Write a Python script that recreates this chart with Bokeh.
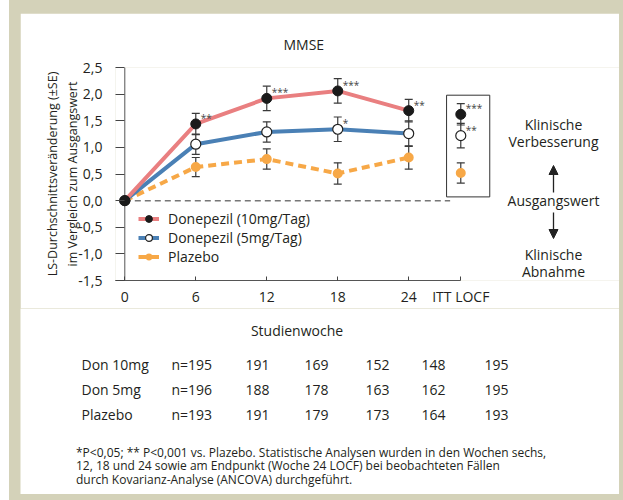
from bokeh.plotting import figure
from bokeh.layouts import column
from bokeh.models import (Range1d, FixedTicker, Whisker, TeeHead, Legend, LegendItem,
                          Label, Arrow, NormalHead, ColumnDataSource)
from bokeh.core.properties import value
from bokeh.embed import file_html
from bokeh.resources import INLINE

# ---------------- data ----------------
weeks = [0, 6, 12, 18, 24]
week_labels = ["0", "6", "12", "18", "24"]
itt_label = "ITT LOCF"
ITT_X = 28.4

don10 = [0.0, 1.44, 1.92, 2.06, 1.69]
don10_se = [0.0, 0.20, 0.23, 0.23, 0.21]
don10_itt, don10_itt_se = 1.62, 0.20
don10_stars = ["", "**", "***", "***", "**"]
don10_itt_star = "***"

don5 = [0.0, 1.06, 1.29, 1.34, 1.26]
don5_se = [0.0, 0.19, 0.19, 0.23, 0.24]
don5_itt, don5_itt_se = 1.22, 0.23
don5_stars = ["", "", "", "*", ""]
don5_itt_star = "**"

plac = [0.0, 0.63, 0.78, 0.51, 0.81]
plac_se = [0.0, 0.18, 0.19, 0.20, 0.22]
plac_itt, plac_itt_se = 0.52, 0.19

y_ticks = [-1.5, -1.0, -0.5, 0.0, 0.5, 1.0, 1.5, 2.0, 2.5]
y_tick_labels = ["-1,5", "-1,0", "-0,5", "0,0", "0,5", "1,0", "1,5", "2,0", "2,5"]

series_names = ["Donepezil (10mg/Tag)", "Donepezil (5mg/Tag)", "Plazebo"]
table_rows = ["Don 10mg", "Don 5mg", "Plazebo"]
n_don10 = [195, 191, 169, 152, 148, 195]
n_don5 = [196, 188, 178, 163, 162, 195]
n_plac = [193, 191, 179, 173, 164, 193]

footnote = ["*P<0,05; ** P<0,001 vs. Plazebo. Statistische Analysen wurden in den Wochen sechs,",
            "12, 18 und 24 sowie am Endpunkt (Woche 24 LOCF) bei beobachteten Fällen",
            "durch Kovarianz-Analyse (ANCOVA) durchgeführt."]

# ---------------- style ----------------
FONT = "Open Sans"
TXT = "#231f20"
BEIGE = "#d4d2b9"
C10 = "#e97f80"
C5 = "#4a80b5"
CP = "#f7a847"
EB = "#3a3a3a"

# panel geometry (page pixels)
PX0, PX1 = 20, 619          # white panel left/right
PY0, PSPLIT, PY1 = 13, 308, 494
FR_L, FR_B, FR_T = 115, 280, 67   # chart frame left / bottom / top
PX_PER_X = 11.83

W = PX1 - PX0
H1 = PSPLIT - PY0
H2 = PY1 - PSPLIT

X0 = -(124.3 - FR_L) / PX_PER_X
X1 = X0 + (PX1 - FR_L) / PX_PER_X
Y0, Y1 = y_ticks[0], y_ticks[-1]

p = figure(width=W, height=H1, output_backend="svg", toolbar_location=None,
           x_range=Range1d(X0, X1), y_range=Range1d(Y0, Y1),
           min_border_left=FR_L - PX0, min_border_right=0, min_border_top=FR_T - PY0,
           min_border_bottom=PSPLIT - FR_B,
           border_fill_color="white", background_fill_color="white", outline_line_color=None)
p.frame_align = False
p.margin = (PY0, 623 - PX1, 0, PX0 - 9)
p.grid.visible = False

p.title.text = "MMSE"
p.title.text_font = FONT
p.title.text_font_size = "14px"
p.title.text_font_style = "normal"
p.title.text_color = TXT
p.title.align = "left"
p.title.offset = 283 - FR_L
p.title.standoff = 28

# axes
yax = p.yaxis[0]
yax.ticker = FixedTicker(ticks=y_ticks)
yax.major_label_overrides = {t: l for t, l in zip(y_ticks, y_tick_labels)}
yax.axis_line_color = None
yax.major_tick_in = 9
yax.major_tick_out = 0
yax.major_tick_line_color = "#444"
yax.minor_tick_line_color = None
yax.major_label_standoff = 13
yax.major_label_text_font = FONT
yax.major_label_text_font_size = "14px"
yax.major_label_text_color = TXT
yax.axis_label = "LS-Durchschnittsveränderung (±SE)\nim Vergleich zum Ausgangswert"
yax.axis_label_text_font = FONT
yax.axis_label_text_font_size = "12.5px"
yax.axis_label_text_font_style = "normal"
yax.axis_label_text_color = TXT
yax.axis_label_standoff = -6

xax = p.xaxis[0]
xax.ticker = FixedTicker(ticks=weeks + [ITT_X])
ov = {w: l for w, l in zip(weeks, week_labels)}
ov[ITT_X] = itt_label
xax.major_label_overrides = ov
xax.bounds = (X0, ITT_X)
xax.axis_line_color = "#555"
xax.major_tick_in = 4
xax.major_tick_out = 0
xax.major_tick_line_color = "#444"
xax.minor_tick_line_color = None
xax.major_label_standoff = 6
xax.major_label_text_font = FONT
xax.major_label_text_font_size = "14px"
xax.major_label_text_color = TXT

# vertical axis line at week 0
p.segment(x0=[weeks[0]], y0=[y_ticks[0]], x1=[weeks[0]], y1=[y_ticks[-1]],
          line_color="#555", line_width=1)

# baseline dashed
p.line([weeks[0], ITT_X - 0.9], [0, 0], line_color="#777", line_width=1.5, line_dash="6 4")

# ITT box
itt_tops = [don10_itt + don10_itt_se, don5_itt + don5_itt_se, plac_itt + plac_itt_se]
itt_bots = [don10_itt - don10_itt_se, don5_itt - don5_itt_se, plac_itt - plac_itt_se]
p.quad(left=[ITT_X - 1.2], right=[ITT_X + 2.45], top=[max(itt_tops) + 0.16],
       bottom=[min(itt_bots) - 0.26], fill_color=None, line_color="#333", line_width=1)

# error bars
def add_err(xs, ys, ses):
    xs2 = [x for x, s in zip(xs, ses) if s > 0]
    ys2 = [y for y, s in zip(ys, ses) if s > 0]
    ss2 = [s for s in ses if s > 0]
    src = ColumnDataSource(dict(x=xs2, up=[y + s for y, s in zip(ys2, ss2)],
                                lo=[y - s for y, s in zip(ys2, ss2)]))
    p.add_layout(Whisker(source=src, base="x", upper="up", lower="lo", dimension="height",
                         line_color=EB, line_width=1.2,
                         upper_head=TeeHead(size=8, line_color=EB, line_width=1.2),
                         lower_head=TeeHead(size=8, line_color=EB, line_width=1.2)))

add_err(weeks + [ITT_X], plac + [plac_itt], plac_se + [plac_itt_se])
add_err(weeks + [ITT_X], don5 + [don5_itt], don5_se + [don5_itt_se])
add_err(weeks + [ITT_X], don10 + [don10_itt], don10_se + [don10_itt_se])

# lines
lp = p.line(weeks, plac, line_color=CP, line_width=4, line_dash="8 5")
l5 = p.line(weeks, don5, line_color=C5, line_width=4)
l10 = p.line(weeks, don10, line_color=C10, line_width=4)

# markers
sp = p.scatter(weeks + [ITT_X], plac + [plac_itt], size=10, fill_color=CP, line_color=None)
s5 = p.scatter(weeks + [ITT_X], don5 + [don5_itt], size=10, fill_color="white",
               line_color="#222", line_width=1.2)
s10 = p.scatter(weeks + [ITT_X], don10 + [don10_itt], size=10, fill_color="#1a1a1a",
                line_color="#1a1a1a")

# stars
st_x = weeks + [ITT_X] + weeks + [ITT_X]
st_y = don10 + [don10_itt] + don5 + [don5_itt]
st_t = don10_stars + [don10_itt_star] + don5_stars + [don5_itt_star]
p.text(x="x", y="y", text="t", source=ColumnDataSource(dict(x=st_x, y=st_y, t=st_t)),
       x_offset=5, y_offset=-6, text_font=value(FONT), text_font_size="10px",
       text_color="#444", text_baseline="middle", text_align="left")

# legend
legend = Legend(items=[LegendItem(label=series_names[0], renderers=[l10, s10]),
                       LegendItem(label=series_names[1], renderers=[l5, s5]),
                       LegendItem(label=series_names[2], renderers=[lp, sp])],
                location=(23, 14), padding=0, margin=0, border_line_color=None,
                background_fill_alpha=0, glyph_width=21, glyph_height=17, label_height=17,
                spacing=-2, label_standoff=9, label_text_font=FONT,
                label_text_font_size="14px", label_text_color=TXT)
p.add_layout(legend)

# labels inside chart frame (screen units relative to the frame)
def flab(text, ix, iy, size="14px", align="center"):
    p.add_layout(Label(x=ix - FR_L, y=FR_B - iy, x_units="screen", y_units="screen",
                       text=text, text_font=FONT, text_font_size=size, text_color=TXT,
                       text_align=align, text_baseline="middle"))

flab("Klinische", 553, 124)
flab("Verbesserung", 553, 141)
flab("Ausgangswert", 553, 200)
flab("Klinische", 553, 254)
flab("Abnahme", 553, 271)
for ys, ye in [(192, 165), (212, 238)]:
    p.add_layout(Arrow(x_start=553 - FR_L, y_start=FR_B - ys, x_end=553 - FR_L, y_end=FR_B - ye,
                       start_units="screen", end_units="screen", line_color="#222",
                       line_width=1.3,
                       end=NormalHead(size=9, fill_color="#222", line_color="#222")))

# ---------------- lower panel: axis title, table, footnote ----------------
q = figure(width=W, height=H2, output_backend="svg", toolbar_location=None,
           x_range=Range1d(PX0, PX1), y_range=Range1d(PY1, PSPLIT),
           x_axis_type=None, y_axis_type=None, min_border=0,
           border_fill_color="white", background_fill_color="white", outline_line_color=None)
q.frame_align = False
q.margin = (0, 623 - PX1, 500 - PY1, PX0 - 9)
q.grid.visible = False

def qlab(text, ix, iy, size="14px", align="left"):
    q.add_layout(Label(x=ix, y=iy, text=text, text_font=FONT, text_font_size=size,
                       text_color=TXT, text_align=align, text_baseline="middle"))

qlab("Studienwoche", 296.5, 330, align="center")
col_x = [171, 245, 304, 365, 421, 484]
row_y = [364, 389, 414]
for name, ns, ry in zip(table_rows, [n_don10, n_don5, n_plac], row_y):
    qlab(name, 81, ry)
    for j, (n, cx) in enumerate(zip(ns, col_x)):
        qlab(("n=" if j == 0 else "") + str(n), cx, ry)

for k, line in enumerate(footnote):
    qlab(line, 75.5, 452 + 13.3 * k, size="12px")

layout = column(p, q, spacing=0, styles={"background-color": BEIGE})
layout.margin = (0, 0, 0, 9)

with open("out.html", "w", encoding="utf-8") as f:
    f.write(file_html(layout, INLINE))
